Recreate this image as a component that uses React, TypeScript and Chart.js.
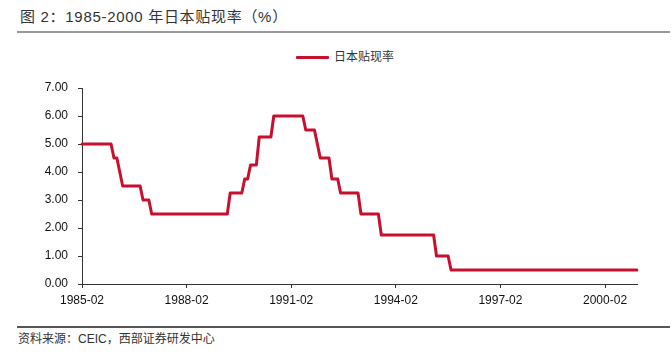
import React, { useEffect, useRef } from "react";
import { Chart, registerables } from "chart.js";

Chart.register(...registerables);

const TITLE = "图 2：1985-2000 年日本贴现率（%）";
const SOURCE = "资料来源：CEIC，西部证券研发中心";
const SERIES_NAME = "日本贴现率";

// monthly categories 1985-02 .. 2001-01
const START_YEAR = 1985;
const START_MONTH = 2;
const MONTH_COUNT = 192;
const months: string[] = [];
for (let k = 0; k < MONTH_COUNT; k++) {
  const m0 = START_MONTH - 1 + k;
  const y = START_YEAR + Math.floor(m0 / 12);
  const m = (m0 % 12) + 1;
  months.push(`${y}-${m < 10 ? "0" + m : m}`);
}

const xTickLabels = ["1985-02", "1988-02", "1991-02", "1994-02", "1997-02", "2000-02"];
const yTicks = [0, 1, 2, 3, 4, 5, 6, 7];

// Japan discount rate, monthly (%)
const rate1985 = [5, 5, 5, 5, 5, 5, 5, 5, 5, 5, 5]; // Feb-Dec
const rate1986 = [4.5, 4.5, 4, 3.5, 3.5, 3.5, 3.5, 3.5, 3.5, 3.5, 3, 3];
const rate1987 = [3, 2.5, 2.5, 2.5, 2.5, 2.5, 2.5, 2.5, 2.5, 2.5, 2.5, 2.5];
const rate1988 = [2.5, 2.5, 2.5, 2.5, 2.5, 2.5, 2.5, 2.5, 2.5, 2.5, 2.5, 2.5];
const rate1989 = [2.5, 2.5, 2.5, 2.5, 3.25, 3.25, 3.25, 3.25, 3.25, 3.75, 3.75, 4.25];
const rate1990 = [4.25, 4.25, 5.25, 5.25, 5.25, 5.25, 5.25, 6, 6, 6, 6, 6];
const rate1991 = [6, 6, 6, 6, 6, 6, 5.5, 5.5, 5.5, 5.5, 5, 4.5];
const rate1992 = [4.5, 4.5, 4.5, 3.75, 3.75, 3.75, 3.25, 3.25, 3.25, 3.25, 3.25, 3.25];
const rate1993 = [3.25, 2.5, 2.5, 2.5, 2.5, 2.5, 2.5, 2.5, 1.75, 1.75, 1.75, 1.75];
const rate1994 = [1.75, 1.75, 1.75, 1.75, 1.75, 1.75, 1.75, 1.75, 1.75, 1.75, 1.75, 1.75];
const rate1995 = [1.75, 1.75, 1.75, 1, 1, 1, 1, 1, 0.5, 0.5, 0.5, 0.5];
const rate1996 = [0.5, 0.5, 0.5, 0.5, 0.5, 0.5, 0.5, 0.5, 0.5, 0.5, 0.5, 0.5];
const rate1997 = [0.5, 0.5, 0.5, 0.5, 0.5, 0.5, 0.5, 0.5, 0.5, 0.5, 0.5, 0.5];
const rate1998 = [0.5, 0.5, 0.5, 0.5, 0.5, 0.5, 0.5, 0.5, 0.5, 0.5, 0.5, 0.5];
const rate1999 = [0.5, 0.5, 0.5, 0.5, 0.5, 0.5, 0.5, 0.5, 0.5, 0.5, 0.5, 0.5];
const rate2000 = [0.5, 0.5, 0.5, 0.5, 0.5, 0.5, 0.5, 0.5, 0.5, 0.5, 0.5, 0.5];
const rate2001 = [0.5]; // Jan

const rates = [
  ...rate1985, ...rate1986, ...rate1987, ...rate1988, ...rate1989, ...rate1990,
  ...rate1991, ...rate1992, ...rate1993, ...rate1994, ...rate1995, ...rate1996,
  ...rate1997, ...rate1998, ...rate1999, ...rate2000, ...rate2001,
];

const RED = "#C8102E";
const AXIS = "#333333";
const FONT = '"Liberation Sans", Arial, "Noto Sans CJK SC", sans-serif';

export default function App() {
  const ref = useRef<HTMLCanvasElement | null>(null);

  useEffect(() => {
    if (!ref.current) return;
    const chart = new Chart(ref.current, {
      type: "line",
      data: {
        labels: months,
        datasets: [
          {
            label: SERIES_NAME,
            data: rates,
            borderColor: RED,
            backgroundColor: RED,
            borderWidth: 3,
            pointRadius: 0,
            tension: 0,
            borderJoinStyle: "round",
            borderCapStyle: "round",
          },
        ],
      },
      options: {
        animation: false,
        responsive: true,
        maintainAspectRatio: false,
        layout: { padding: { top: 48, right: 35, left: 0, bottom: 0 } },
        plugins: { legend: { display: false }, tooltip: { enabled: false } },
        scales: {
          x: {
            type: "category",
            offset: false,
            afterFit: (s: any) => {
              s.height = 32;
            },
            grid: {
              drawOnChartArea: false,
              drawTicks: true,
              tickLength: 4,
              color: AXIS,
            },
            border: { color: AXIS, width: 1 },
            ticks: {
              autoSkip: false,
              maxRotation: 0,
              minRotation: 0,
              padding: 5,
              color: "#111",
              font: { family: FONT, size: 12 },
              callback: (_v: any, i: number) =>
                xTickLabels.includes(months[i]) ? months[i] : null,
            },
          },
          y: {
            min: 0,
            max: 7,
            afterFit: (s: any) => {
              s.width = 82;
            },
            afterBuildTicks: (s: any) => {
              s.ticks = yTicks.map((v) => ({ value: v }));
            },
            grid: {
              drawOnChartArea: false,
              drawTicks: true,
              tickLength: 4,
              color: AXIS,
            },
            border: { color: AXIS, width: 1 },
            ticks: {
              padding: 10,
              color: "#111",
              font: { family: FONT, size: 12 },
              callback: (v: any) => Number(v).toFixed(2),
            },
          },
        },
      },
    });
    return () => chart.destroy();
  }, []);

  return (
    <div
      style={{
        position: "absolute",
        left: 0,
        top: 0,
        width: 672,
        height: 355,
        background: "#fff",
        fontFamily: FONT,
        overflow: "hidden",
      }}
    >
      <div
        style={{
          position: "absolute",
          left: 20,
          top: 9,
          fontSize: 15,
          lineHeight: "15px",
          letterSpacing: "0.7px",
          color: "#333",
          whiteSpace: "nowrap",
        }}
      >
        {TITLE}
      </div>
      <div
        style={{
          position: "absolute",
          left: 17,
          top: 31,
          width: 653,
          height: 2,
          background: "#999",
        }}
      />
      <div
        style={{
          position: "absolute",
          left: 296,
          top: 50,
          height: 14,
          display: "flex",
          alignItems: "center",
          whiteSpace: "nowrap",
        }}
      >
        <div style={{ width: 33, height: 3, background: RED, borderRadius: 1 }} />
        <span style={{ marginLeft: 5, fontSize: 12, lineHeight: "14px", color: "#333" }}>
          {SERIES_NAME}
        </span>
      </div>
      <div style={{ position: "absolute", left: 0, top: 40, width: 672, height: 276 }}>
        <canvas ref={ref} />
      </div>
      <div
        style={{
          position: "absolute",
          left: 17,
          top: 326,
          width: 653,
          height: 1.5,
          background: "#555",
        }}
      />
      <div
        style={{
          position: "absolute",
          left: 18,
          top: 332,
          fontSize: 12,
          lineHeight: "14px",
          color: "#333",
          whiteSpace: "nowrap",
        }}
      >
        {SOURCE}
      </div>
    </div>
  );
}
